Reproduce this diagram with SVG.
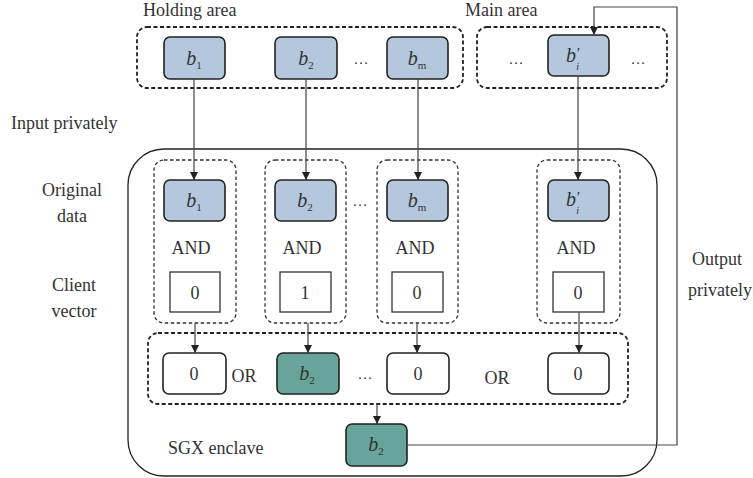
<svg xmlns="http://www.w3.org/2000/svg" width="753" height="478" viewBox="0 0 753 478">
  <defs>
    <marker id="arrow" viewBox="0 0 10 10" refX="10" refY="5" markerWidth="8" markerHeight="8" markerUnits="userSpaceOnUse" orient="auto">
      <path d="M0,0 L10,5 L0,10 z" fill="#222"/>
    </marker>
    <style>
      text { font-family: "Liberation Serif", "Times New Roman", serif; fill: #333; }
      .lbl { font-size: 18px; }
      .mid { text-anchor: middle; }
      .var { font-size: 20px; font-style: italic; }
      .sub { font-size: 11px; font-style: normal; }
      .prime { font-size: 15px; }
      .subi { font-size: 10px; }
      .dots { font-size: 15px; text-anchor: middle; }
      .blue { fill: #b4c7dc; stroke: #222; stroke-width: 1.6; }
      .green { fill: #67a59b; stroke: #222; stroke-width: 1.6; }
      .white { fill: #fff; stroke: #222; stroke-width: 1.6; }
      .sq { fill: #fff; stroke: #333; stroke-width: 1.3; }
      .dash { fill: none; stroke: #222; stroke-width: 1.8; stroke-dasharray: 4 2.5; }
      .dash-thin { fill: none; stroke: #333; stroke-width: 1.3; stroke-dasharray: 3.5 2.5; }
      .enclave { fill: none; stroke: #222; stroke-width: 1.3; }
      .wire { fill: none; stroke: #444; stroke-width: 1.2; }
    </style>
  </defs>

  <!-- side labels -->
  <text class="lbl" x="143" y="16">Holding area</text>
  <text class="lbl" x="465" y="16">Main area</text>
  <text class="lbl" x="11" y="129">Input privately</text>
  <text class="lbl mid" x="72" y="196">Original</text>
  <text class="lbl mid" x="72" y="222">data</text>
  <text class="lbl mid" x="74" y="291">Client</text>
  <text class="lbl mid" x="74" y="317">vector</text>
  <text class="lbl mid" x="717" y="265">Output</text>
  <text class="lbl mid" x="720" y="296">privately</text>

  <!-- untrusted memory areas -->
  <g id="holding-area">
    <rect class="dash" x="137" y="27" width="326" height="61" rx="10"/>
    <g id="hold-b1">
      <rect class="blue" x="164" y="37" width="61" height="42" rx="6"/>
      <text class="var mid" x="194" y="65">b<tspan class="sub" dy="4">1</tspan></text>
    </g>
    <g id="hold-b2">
      <rect class="blue" x="275" y="37" width="62" height="42" rx="6"/>
      <text class="var mid" x="306" y="65">b<tspan class="sub" dy="4">2</tspan></text>
    </g>
    <text class="dots" x="361" y="64">…</text>
    <g id="hold-bm">
      <rect class="blue" x="387" y="37" width="61" height="42" rx="6"/>
      <text class="var mid" x="417" y="65">b<tspan class="sub" dy="4">m</tspan></text>
    </g>
  </g>

  <g id="main-area">
    <rect class="dash" x="477" y="27" width="190" height="61" rx="10"/>
    <text class="dots" x="516" y="64">…</text>
    <g id="main-bi">
      <rect class="blue" x="548" y="35" width="61" height="41" rx="6"/>
      <text class="var" x="566" y="62">b<tspan class="prime" dy="-4">′</tspan><tspan class="subi" dx="-3" dy="12">i</tspan></text>
    </g>
    <text class="dots" x="638" y="64">…</text>
  </g>

  <!-- enclave -->
  <g id="sgx-enclave">
    <rect class="enclave" x="128" y="149" width="529" height="327" rx="36"/>
    <text class="lbl" x="168" y="454">SGX enclave</text>
  </g>

  <g id="col-1">
    <rect class="dash-thin" x="154" y="160" width="82" height="163" rx="10"/>
    <rect class="blue" x="164" y="180" width="61" height="41" rx="6"/>
    <text class="var mid" x="194" y="207">b<tspan class="sub" dy="4">1</tspan></text>
    <text class="lbl mid" x="191" y="254">AND</text>
    <rect class="sq" x="170" y="272" width="50" height="40"/>
    <text class="lbl mid" x="195" y="299">0</text>
  </g>
  <g id="col-2">
    <rect class="dash-thin" x="265" y="160" width="81" height="163" rx="10"/>
    <rect class="blue" x="275" y="180" width="61" height="41" rx="6"/>
    <text class="var mid" x="305" y="207">b<tspan class="sub" dy="4">2</tspan></text>
    <text class="lbl mid" x="302" y="254">AND</text>
    <rect class="sq" x="280" y="272" width="51" height="40"/>
    <text class="lbl mid" x="305" y="299">1</text>
  </g>
  <text class="dots" x="360" y="206">…</text>
  <g id="col-3">
    <rect class="dash-thin" x="377" y="160" width="81" height="163" rx="10"/>
    <rect class="blue" x="387" y="180" width="61" height="41" rx="6"/>
    <text class="var mid" x="417" y="207">b<tspan class="sub" dy="4">m</tspan></text>
    <text class="lbl mid" x="415" y="254">AND</text>
    <rect class="sq" x="392" y="272" width="51" height="40"/>
    <text class="lbl mid" x="417" y="299">0</text>
  </g>
  <g id="col-4">
    <rect class="dash-thin" x="537" y="160" width="83" height="163" rx="10"/>
    <rect class="blue" x="548" y="180" width="61" height="41" rx="6"/>
    <text class="var" x="566" y="206">b<tspan class="prime" dy="-4">′</tspan><tspan class="subi" dx="-3" dy="12">i</tspan></text>
    <text class="lbl mid" x="576" y="254">AND</text>
    <rect class="sq" x="553" y="272" width="51" height="40"/>
    <text class="lbl mid" x="578" y="299">0</text>
  </g>

  <g id="or-row">
    <rect class="dash" x="148" y="333" width="480" height="71" rx="10"/>
    <g id="or-0a">
      <rect class="white" x="163" y="353" width="63" height="41" rx="6"/>
      <text class="lbl mid" x="194" y="380">0</text>
    </g>
    <text class="lbl mid" x="244" y="382">OR</text>
    <g id="or-b2">
      <rect class="green" x="277" y="353" width="62" height="41" rx="6"/>
      <text class="var mid" x="307" y="380">b<tspan class="sub" dy="4">2</tspan></text>
    </g>
    <text class="dots" x="365" y="379">…</text>
    <g id="or-0b">
      <rect class="white" x="387" y="353" width="62" height="41" rx="6"/>
      <text class="lbl mid" x="418" y="380">0</text>
    </g>
    <text class="lbl mid" x="497" y="384">OR</text>
    <g id="or-0c">
      <rect class="white" x="548" y="353" width="61" height="41" rx="6"/>
      <text class="lbl mid" x="578" y="380">0</text>
    </g>
  </g>

  <g id="result-b2">
    <rect class="green" x="346" y="424" width="61" height="42" rx="6"/>
    <text class="var mid" x="376" y="451">b<tspan class="sub" dy="4">2</tspan></text>
  </g>

  <!-- connectors -->
  <g id="connectors">
    <path class="wire" d="M194,79 V180" marker-end="url(#arrow)"/>
    <path class="wire" d="M306,79 V180" marker-end="url(#arrow)"/>
    <path class="wire" d="M418,79 V180" marker-end="url(#arrow)"/>
    <path class="wire" d="M578,76 V180" marker-end="url(#arrow)"/>
    <path class="wire" d="M195,323 V353" marker-end="url(#arrow)"/>
    <path class="wire" d="M308,323 V353" marker-end="url(#arrow)"/>
    <path class="wire" d="M417,323 V353" marker-end="url(#arrow)"/>
    <path class="wire" d="M579,312 V353" marker-end="url(#arrow)"/>
    <path class="wire" d="M377,404 V424" marker-end="url(#arrow)"/>
    <path class="wire" d="M407,445 H677 V7 H594 V35" marker-end="url(#arrow)"/>
  </g>
</svg>
